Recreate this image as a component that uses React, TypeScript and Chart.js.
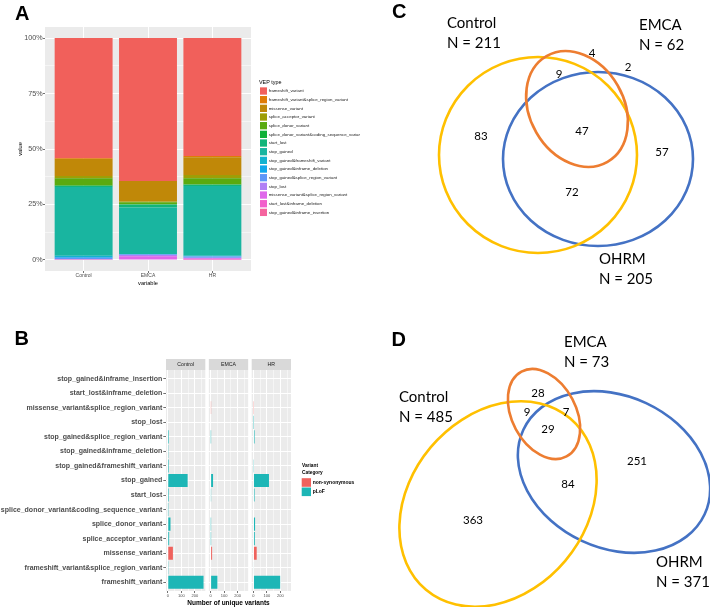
import React, { useEffect, useRef } from "react";
import { Chart, registerables } from "chart.js";

Chart.register(...registerables);

const FONT = '"Liberation Sans", Arial, Helvetica, sans-serif';
const VENN_FONT = 'Lato, "Open Sans", sans-serif';

// ---------------- Panel A / B : categories ----------------
const vepTypes = [
  "frameshift_variant",
  "frameshift_variant&splice_region_variant",
  "missense_variant",
  "splice_acceptor_variant",
  "splice_donor_variant",
  "splice_donor_variant&coding_sequence_variant",
  "start_lost",
  "stop_gained",
  "stop_gained&frameshift_variant",
  "stop_gained&inframe_deletion",
  "stop_gained&splice_region_variant",
  "stop_lost",
  "missense_variant&splice_region_variant",
  "start_lost&inframe_deletion",
  "stop_gained&inframe_insertion",
];
const groups = ["Control", "EMCA", "HR"];
const vepColors = [
  "#F1605B", "#E07B06", "#C08808", "#9E9E06", "#5AAA0F",
  "#0FB038", "#12B57A", "#19B5A0", "#12B3D0", "#10A8EC",
  "#5E97F8", "#B07FF5", "#DF67EA", "#F25FCB", "#F5649F",
];

// Panel A: share of each VEP type (%)
const controlPct = [54.2, 0.3, 7.7, 1.0, 3.3, 0.2, 0.4, 31.0, 0.6, 0.3, 0.7, 0.1, 0.1, 0.05, 0.05];
const emcaPct = [64.4, 0, 9.3, 0.3, 1.0, 0, 1.4, 20.9, 0.2, 0, 0.3, 0.6, 1.6, 0, 0];
const hrPct = [53.2, 0.5, 8.0, 1.5, 2.8, 0.1, 0.6, 31.4, 0.3, 0.1, 0.5, 0.3, 0.5, 0.1, 0.1];
const pctTickLabels = ["0%", "25%", "50%", "75%", "100%"];

// Panel B: number of unique variants
const controlCounts = [265, 2, 38, 10, 20, 1, 8, 147, 8, 2, 8, 0, 0, 0, 0];
const emcaCounts = [50, 0, 11, 1, 1, 0, 2, 18, 0, 0, 1, 0, 2, 0, 0];
const hrCounts = [198, 4, 24, 10, 12, 0, 8, 115, 2, 0, 8, 1, 2, 0, 0];
const variantCategories = ["non-synonymous", "pLoF"];
const categoryColors = ["#EF625D", "#1DB6B6"];
const nonSynonymousTypes = ["missense_variant", "missense_variant&splice_region_variant"];
const countTickLabels = [0, 100, 200];

// ---------------- Venn C / D ----------------
const vennSets = ["Control", "EMCA", "OHRM"];
const vennCSizes = [211, 62, 205];
const vennCCounts = [83, 9, 4, 47, 2, 57, 72];
const vennDSizes = [485, 73, 371];
const vennDCounts = [363, 9, 28, 29, 7, 251, 84];
const setColors = ["#FFC000", "#ED7D31", "#4472C4"];

// Venn layout (positions only, in the diagram's own units)
const vennCCountPos = [[121, 136], [199, 74], [232, 53], [222, 131], [268, 67], [302, 152], [212, 192]];
const vennCSetPos = [[87, 28], [279, 30], [239, 264]];
const vennCShapes = [
  { cx: 178, cy: 155, a: 99, b: 98, rot: 0 },
  { cx: 217, cy: 109, a: 61, b: 47, rot: 60 },
  { cx: 238, cy: 159, a: 95, b: 87, rot: 0 },
];
const vennDCountPos = [[113, 220], [167, 112], [178, 93], [188, 129], [206, 112], [277, 161], [208, 184]];
const vennDSetPos = [[39, 102], [204, 47], [296, 267]];
const vennDShapes = [
  { cx: 138, cy: 204, a: 112, b: 88, rot: -50 },
  { cx: 184, cy: 114, a: 48, b: 32, rot: 62 },
  { cx: 254, cy: 172, a: 100, b: 76, rot: 25 },
];
const drawOrder = [2, 0, 1];

// ---------------- plugins ----------------
const panelBgA = {
  id: "panelBgA",
  beforeDraw(chart: any) {
    const { ctx, chartArea: a } = chart;
    ctx.save();
    ctx.fillStyle = "#EBEBEB";
    ctx.fillRect(a.left, a.top, a.right - a.left, a.bottom - a.top);
    ctx.restore();
  },
};

const vepLegend = {
  id: "vepLegend",
  afterDraw(chart: any) {
    const { ctx, chartArea: a } = chart;
    const left = a.right + 8;
    const top = (a.top + a.bottom) / 2 - 66;
    ctx.save();
    ctx.textAlign = "left";
    ctx.textBaseline = "middle";
    ctx.fillStyle = "#000";
    ctx.font = `5.4px ${FONT}`;
    ctx.fillText("VEP type", left, top);
    ctx.font = `4.4px ${FONT}`;
    vepTypes.forEach((t, i) => {
      const yc = top + 8 + i * 8.67;
      ctx.fillStyle = vepColors[i];
      ctx.fillRect(left + 1, yc - 3.65, 7, 7.3);
      ctx.fillStyle = "#1A1A1A";
      ctx.fillText(t, left + 9.7, yc);
    });
    ctx.restore();
  },
};

const facetIds = ["xC", "xE", "xH"];

const facetDecor = {
  id: "facetDecor",
  beforeDraw(chart: any) {
    const { ctx, chartArea: a } = chart;
    ctx.save();
    facetIds.forEach((id, i) => {
      const s = chart.scales[id];
      ctx.fillStyle = "#EBEBEB";
      ctx.fillRect(s.left, a.top, s.right - s.left, a.bottom - a.top);
      ctx.fillStyle = "#D9D9D9";
      ctx.fillRect(s.left, a.top - 11, s.right - s.left, 11);
      ctx.fillStyle = "#1A1A1A";
      ctx.font = `5.2px ${FONT}`;
      ctx.textAlign = "center";
      ctx.textBaseline = "middle";
      ctx.fillText(groups[i], (s.left + s.right) / 2, a.top - 5.5);
    });
    ctx.restore();
  },
  afterDraw(chart: any) {
    const { ctx, chartArea: a } = chart;
    const left = a.right + 11;
    const top = a.top + 96;
    ctx.save();
    ctx.textAlign = "left";
    ctx.textBaseline = "middle";
    ctx.fillStyle = "#000";
    ctx.font = `bold 4.8px ${FONT}`;
    ctx.fillText("Variant", left, top);
    ctx.fillText("Category", left, top + 7);
    variantCategories.forEach((c, i) => {
      const y0 = top + 12.2 + i * 9.3;
      ctx.fillStyle = categoryColors[i];
      ctx.fillRect(left - 0.3, y0, 9.3, 8.6);
      ctx.fillStyle = "#000";
      ctx.font = `bold 5px ${FONT}`;
      ctx.fillText(c, left + 10.7, y0 + 4.3);
    });
    ctx.restore();
  },
};

const vennPlugin = {
  id: "venn",
  afterDatasetsDraw(chart: any, _args: any, opts: any) {
    const { ctx } = chart;
    const x = chart.scales.x;
    const y = chart.scales.y;
    const sx = x.getPixelForValue(1) - x.getPixelForValue(0);
    const sy = Math.abs(y.getPixelForValue(1) - y.getPixelForValue(0));
    ctx.save();
    drawOrder.forEach((k) => {
      const e = opts.shapes[k];
      ctx.beginPath();
      ctx.ellipse(
        x.getPixelForValue(e.cx),
        y.getPixelForValue(e.cy),
        e.a * sx,
        e.b * sy,
        (e.rot * Math.PI) / 180,
        0,
        Math.PI * 2
      );
      ctx.strokeStyle = setColors[k];
      ctx.lineWidth = 2.6;
      ctx.stroke();
    });
    ctx.fillStyle = "#000";
    chart.data.datasets.forEach((ds: any, di: number) => {
      const meta = chart.getDatasetMeta(di);
      meta.data.forEach((pt: any, i: number) => {
        const lines = ds.texts[i];
        if (ds.kind === "count") {
          ctx.font = `11.5px ${VENN_FONT}`;
          ctx.textAlign = "center";
          ctx.textBaseline = "middle";
          ctx.fillText(lines[0], pt.x, pt.y);
        } else {
          ctx.font = `15px ${VENN_FONT}`;
          ctx.textAlign = "left";
          ctx.textBaseline = "alphabetic";
          lines.forEach((l: string, li: number) => ctx.fillText(l, pt.x, pt.y + li * 19.5));
        }
      });
    });
    ctx.restore();
  },
};

// ---------------- chart builders ----------------
function makePanelA(canvas: HTMLCanvasElement) {
  const pcts = [controlPct, emcaPct, hrPct];
  const datasets = vepTypes
    .map((t, i) => ({
      label: t,
      data: groups.map((_g, gi) => ({ x: gi, y: pcts[gi][i] })),
      backgroundColor: vepColors[i],
      borderWidth: 0,
      barPercentage: 0.9,
      categoryPercentage: 1,
    }))
    .reverse();
  return new Chart(canvas, {
    type: "bar",
    data: { datasets } as any,
    plugins: [panelBgA, vepLegend],
    options: {
      responsive: false,
      animation: false,
      layout: { padding: { left: 0, right: 109, top: 27, bottom: 13 } },
      plugins: { legend: { display: false }, tooltip: { enabled: false } },
      scales: {
        x: {
          type: "linear",
          stacked: true,
          offset: false,
          min: -0.6,
          max: 2.6,
          ticks: {
            stepSize: 1,
            includeBounds: false,
            autoSkip: false,
            maxRotation: 0,
            minRotation: 0,
            padding: 0,
            color: "#4D4D4D",
            font: { family: FONT, size: 5 },
            callback: (v: any) => (groups[v] !== undefined ? groups[v] : ""),
          },
          grid: {
            offset: false,
            color: "#FFFFFF",
            lineWidth: 1,
            tickColor: "#333333",
            tickLength: 2,
            tickWidth: 0.7,
          },
          border: { display: false },
          title: {
            display: true,
            text: "variable",
            color: "#000",
            font: { family: FONT, size: 5.7 },
            padding: { top: 0, bottom: 0.6 },
          },
          afterFit: (s: any) => {
            s.height = 16;
          },
        },
        y: {
          type: "linear",
          stacked: true,
          min: -5,
          max: 105,
          ticks: {
            stepSize: 12.5,
            includeBounds: false,
            autoSkip: false,
            padding: 0.3,
            color: "#4D4D4D",
            font: { family: FONT, size: 7.2 },
            callback: (v: any) => (v % 25 === 0 ? pctTickLabels[v / 25] : ""),
          },
          grid: {
            color: "#FFFFFF",
            lineWidth: (c: any) => (c.tick && c.tick.value % 25 === 0 ? 1 : 0.5),
            tickColor: "#333333",
            tickLength: 2,
            tickWidth: (c: any) => (c.tick && c.tick.value % 25 === 0 ? 0.7 : 0),
          },
          border: { display: false },
          title: {
            display: true,
            text: "value",
            color: "#000",
            font: { family: FONT, size: 5.7 },
            padding: { top: 16.6, bottom: 0 },
          },
          afterFit: (s: any) => {
            s.width = 45;
          },
        },
      },
    } as any,
  });
}

function facetAxis(weight: number) {
  return {
    type: "linear",
    position: "bottom",
    stack: "facets",
    stackWeight: weight,
    min: -13.25,
    max: 278.25,
    ticks: {
      stepSize: 50,
      includeBounds: false,
      autoSkip: false,
      maxRotation: 0,
      minRotation: 0,
      padding: 0.3,
      color: "#4D4D4D",
      font: { family: FONT, size: 4 },
      callback: (v: any) => (countTickLabels.includes(v) ? String(v) : ""),
    },
    grid: {
      color: "#FFFFFF",
      lineWidth: (c: any) => (c.tick && countTickLabels.includes(c.tick.value) ? 1 : 0.5),
      tickColor: "#333333",
      tickLength: 2,
      tickWidth: (c: any) => (c.tick && countTickLabels.includes(c.tick.value) ? 0.7 : 0),
    },
    border: { display: false },
    afterFit: (s: any) => {
      s.height = 8;
    },
  };
}

function gapAxis(weight: number) {
  return {
    type: "linear",
    position: "bottom",
    stack: "facets",
    stackWeight: weight,
    ticks: { display: false },
    grid: { display: false },
    border: { display: false },
    afterFit: (s: any) => {
      s.height = 8;
    },
  };
}

function makePanelB(canvas: HTMLCanvasElement) {
  const counts = [controlCounts, emcaCounts, hrCounts];
  const datasets: any[] = [];
  facetIds.forEach((fid, fi) => {
    variantCategories.forEach((cat, ci) => {
      const rows = vepTypes
        .map((t, i) => ({ t, i }))
        .filter(({ t }) => (ci === 0) === nonSynonymousTypes.includes(t));
      datasets.push({
        label: `${groups[fi]} ${cat}`,
        xAxisID: fid,
        yAxisID: "y",
        data: rows.map(({ i }) => ({ x: counts[fi][i], y: i })),
        backgroundColor: categoryColors[ci],
        borderWidth: 0,
        grouped: false,
        barPercentage: 0.9,
        categoryPercentage: 1,
      });
    });
  });
  return new Chart(canvas, {
    type: "bar",
    data: { datasets },
    plugins: [facetDecor],
    options: {
      indexAxis: "y",
      responsive: false,
      animation: false,
      layout: { padding: { left: 0, right: 69, top: 60, bottom: 0 } },
      plugins: { legend: { display: false }, tooltip: { enabled: false } },
      scales: {
        y: {
          type: "linear",
          position: "left",
          offset: false,
          min: -0.6,
          max: 14.6,
          ticks: {
            stepSize: 1,
            includeBounds: false,
            autoSkip: false,
            padding: 1,
            color: "#4D4D4D",
            font: { family: FONT, size: 7, weight: "bold" },
            callback: (v: any) => (vepTypes[v] !== undefined ? vepTypes[v] : ""),
          },
          grid: {
            offset: false,
            color: "#FFFFFF",
            lineWidth: 1,
            tickColor: "#333333",
            tickLength: 2.7,
            tickWidth: 0.7,
          },
          border: { display: false },
          afterFit: (s: any) => {
            s.width = 166;
          },
        },
        xC: facetAxis(39.33),
        g1: gapAxis(3.5),
        xE: facetAxis(39.34),
        g2: gapAxis(3.5),
        xH: facetAxis(39.33),
        xt: {
          type: "linear",
          position: "bottom",
          ticks: { display: false },
          grid: { display: false },
          border: { display: false },
          title: {
            display: true,
            text: "Number of unique variants",
            color: "#000",
            font: { family: FONT, size: 6.5, weight: "bold" },
            padding: 0,
          },
          afterFit: (s: any) => {
            s.height = 8;
          },
        },
      },
    } as any,
  });
}

function makeVenn(
  canvas: HTMLCanvasElement,
  height: number,
  counts: number[],
  countPos: number[][],
  sizes: number[],
  setPos: number[][],
  shapes: any[]
) {
  return new Chart(canvas, {
    type: "scatter",
    data: {
      datasets: [
        {
          label: "regions",
          kind: "count",
          data: countPos.map(([x, y]) => ({ x, y })),
          texts: counts.map((c) => [String(c)]),
          pointRadius: 0,
        },
        {
          label: "sets",
          kind: "set",
          data: setPos.map(([x, y]) => ({ x, y })),
          texts: vennSets.map((s, i) => [s, `N = ${sizes[i]}`]),
          pointRadius: 0,
        },
      ],
    } as any,
    plugins: [vennPlugin],
    options: {
      responsive: false,
      animation: false,
      layout: { padding: 0 },
      plugins: {
        legend: { display: false },
        tooltip: { enabled: false },
        venn: { shapes },
      },
      scales: {
        x: { type: "linear", min: 0, max: 350, display: false },
        y: { type: "linear", min: 0, max: height, reverse: true, display: false },
      },
    } as any,
  });
}

const letterStyle = (left: number, top: number): React.CSSProperties => ({
  position: "absolute",
  left,
  top,
  font: `bold 20px ${FONT}`,
  lineHeight: "20px",
  color: "#000",
  margin: 0,
});

const canvasStyle = (left: number, top: number, w: number, h: number): React.CSSProperties => ({
  position: "absolute",
  left,
  top,
  width: w,
  height: h,
  display: "block",
});

export default function App() {
  const aRef = useRef<HTMLCanvasElement>(null);
  const bRef = useRef<HTMLCanvasElement>(null);
  const cRef = useRef<HTMLCanvasElement>(null);
  const dRef = useRef<HTMLCanvasElement>(null);

  useEffect(() => {
    const charts = [
      makePanelA(aRef.current!),
      makePanelB(bRef.current!),
      makeVenn(cRef.current!, 300, vennCCounts, vennCCountPos, vennCSizes, vennCSetPos, vennCShapes),
      makeVenn(dRef.current!, 307, vennDCounts, vennDCountPos, vennDSizes, vennDSetPos, vennDShapes),
    ];
    return () => charts.forEach((c) => c.destroy());
  }, []);

  return (
    <div
      style={{
        position: "absolute",
        left: 0,
        top: 0,
        width: 710,
        height: 607,
        background: "#FFFFFF",
        overflow: "hidden",
      }}
    >
      <canvas ref={aRef} width={360} height={300} style={canvasStyle(0, 0, 360, 300)} />
      <canvas ref={bRef} width={360} height={297} style={canvasStyle(0, 310, 360, 297)} />
      <canvas ref={cRef} width={350} height={300} style={canvasStyle(360, 0, 350, 300)} />
      <canvas ref={dRef} width={350} height={307} style={canvasStyle(360, 300, 350, 307)} />
      <div style={letterStyle(15, 3.4)}>A</div>
      <div style={letterStyle(14.5, 328.4)}>B</div>
      <div style={letterStyle(392, 1.4)}>C</div>
      <div style={letterStyle(391.5, 329.4)}>D</div>
    </div>
  );
}
